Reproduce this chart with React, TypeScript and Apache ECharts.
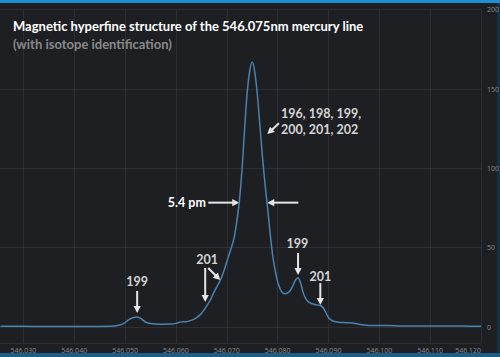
import React, { useEffect, useRef } from "react";
import * as echarts from "echarts";

// Spectrum: wavelength (nm) and intensity (a.u.)
const wavelengths = [
  546.0255, 546.028, 546.032, 546.036, 546.04, 546.044, 546.047, 546.0485, 546.0495, 546.05,
  546.0505, 546.051, 546.0515, 546.0523, 546.053, 546.0535, 546.054, 546.055, 546.057, 546.059,
  546.06, 546.0608, 546.062, 546.063, 546.064, 546.0648, 546.0655, 546.066, 546.0665, 546.067,
  546.0675, 546.068, 546.0685, 546.069, 546.0695, 546.07, 546.0705, 546.071, 546.0715, 546.072,
  546.0725, 546.073, 546.0735, 546.074, 546.0745, 546.075, 546.0755, 546.076, 546.0765, 546.077,
  546.0775, 546.078, 546.0785, 546.079, 546.0795, 546.08, 546.0805, 546.081, 546.0815, 546.082,
  546.0825, 546.083, 546.0835, 546.084, 546.0845, 546.085, 546.0855, 546.086, 546.0865, 546.087,
  546.0875, 546.088, 546.0885, 546.089, 546.0895, 546.09, 546.0905, 546.091, 546.092, 546.093,
  546.094, 546.095, 546.096, 546.097, 546.098, 546.1, 546.102, 546.104, 546.107, 546.11,
  546.113, 546.116, 546.12,
];
const intensities = [
  0.5, 0.5, 0.4, 0.4, 0.3, 0.4, 0.5, 0.9, 1.8, 2.8,
  4.0, 5.1, 5.9, 6.3, 5.6, 4.4, 3.2, 2.2, 1.8, 1.9,
  2.3, 3.1, 3.4, 4.2, 5.8, 7.8, 10.5, 13, 15.5, 18.5,
  22, 25, 28, 31.5, 36, 41, 46, 51, 57, 67,
  80, 99, 124, 147, 161, 167, 161, 147, 128, 108,
  91, 76, 60, 46, 36, 28.5, 24, 21.5, 21, 21.5,
  23, 26, 29.5, 31, 28, 22, 18, 16, 15, 14.5,
  14, 13.8, 13.4, 12, 9, 6, 4.5, 3.6, 3.0, 2.8,
  2.7, 2.4, 1.8, 1.3, 1.0, 0.9, 1.0, 0.7, 0.6, 0.7,
  0.6, 0.6, 0.5,
];

// Annotation texts (data coordinates)
const noteTexts = ["199", "201", "199", "201", "196, 198, 199,\n200, 201, 202", "5.4 pm"];
const noteX = [546.05238, 546.06616, 546.08388, 546.08841, 546.08069, 546.06589];
const noteY = [28.4, 42.8, 52.9, 32.1, 129.8, 78.8];
const noteAlign = ["center", "center", "center", "center", "left", "right"];
const noteColor = ["#d4d4d4", "#d4d4d4", "#d4d4d4", "#d4d4d4", "#d4d4d4", "#ffffff"];

// Arrows (data coordinates): from -> to
const arrowFromX = [546.05238, 546.06576, 546.06635, 546.08026, 546.06636, 546.08407, 546.08402, 546.0884];
const arrowFromY = [22.7, 37.2, 37.2, 128.4, 78.4, 78.4, 46.6, 27.7];
const arrowToX = [546.05238, 546.06576, 546.06872, 546.07797, 546.07246, 546.07797, 546.08402, 546.0884];
const arrowToY = [8.8, 15.8, 29.6, 121.6, 78.4, 78.4, 32.8, 13.9];

const titleText = "Magnetic hyperfine structure of the 546.075nm mercury line";
const subtitleText = "(with isotope identification)";

const FONT = 'Lato, "Open Sans", sans-serif';
const TICK_FONT = '"Open Sans", "Noto Sans", sans-serif';

export default function App() {
  const ref = useRef<HTMLDivElement>(null);
  useEffect(() => {
    const chart = echarts.init(ref.current!, null, { renderer: "svg", width: 500, height: 357 });
    chart.setOption({
      animation: false,
      backgroundColor: "#1e1f22",
      title: {
        text: titleText,
        subtext: subtitleText,
        left: 8,
        top: 13,
        itemGap: 2,
        textStyle: { color: "#ffffff", fontSize: 13, fontWeight: "bold", fontFamily: FONT, lineHeight: 16 },
        subtextStyle: { color: "#8a8a8a", fontSize: 13, fontWeight: "bold", fontFamily: FONT, lineHeight: 16 },
      },
      grid: { left: -27.5, right: 19, top: 9.7, bottom: 14.1, outerBoundsMode: "none" },
      xAxis: {
        type: "value",
        min: 546.02,
        max: 546.12,
        interval: 0.01,
        axisLine: { show: false },
        axisTick: { show: false },
        axisLabel: {
          color: "#8a8a8a",
          fontSize: 7,
          fontFamily: TICK_FONT,
          margin: 4,
          showMinLabel: false,
          alignMaxLabel: "right",
          formatter: (v: number) => v.toFixed(3),
        },
        splitLine: { show: true, lineStyle: { color: "rgba(255,255,255,0.07)", width: 1 } },
      },
      yAxis: {
        type: "value",
        position: "right",
        min: -10,
        max: 200,
        splitNumber: 5,
        axisLine: { show: false },
        axisTick: { show: false },
        axisLabel: {
          color: "#8a8a8a",
          fontSize: 7,
          fontFamily: TICK_FONT,
          margin: 6,
          showMinLabel: false,
        },
        splitLine: { show: true, lineStyle: { color: "rgba(255,255,255,0.07)", width: 1 } },
      },
      series: [
        {
          type: "line",
          data: wavelengths.map((w, i) => [w, intensities[i]]),
          showSymbol: false,
          smooth: 0.3,
          lineStyle: { color: "#4a82b0", width: 1.5 },
          silent: true,
        },
      ],
    });

    const px = (p: number[]) => chart.convertToPixel({ seriesIndex: 0 }, p) as number[];
    const graphics: any[] = [];
    // frame decorations
    graphics.push({ type: "rect", shape: { x: 0, y: 0, width: 500, height: 3 }, style: { fill: "#1f8fcf" } });
    graphics.push({ type: "rect", shape: { x: 0, y: 353, width: 500, height: 4 }, style: { fill: "#1b5f88" } });
    graphics.push({ type: "rect", shape: { x: 497, y: 3, width: 3, height: 350 }, style: { fill: "#12324a" } });

    const arrowColor = "#e6e6e6";
    for (let i = 0; i < arrowFromX.length; i++) {
      const a = px([arrowFromX[i], arrowFromY[i]]);
      const b = px([arrowToX[i], arrowToY[i]]);
      const dx = b[0] - a[0];
      const dy = b[1] - a[1];
      const len = Math.sqrt(dx * dx + dy * dy) || 1;
      const ux = dx / len;
      const uy = dy / len;
      const L = 7;
      const W = 3.6;
      const bx = b[0] - ux * L;
      const by = b[1] - uy * L;
      graphics.push({
        type: "line",
        shape: { x1: a[0], y1: a[1], x2: bx + ux, y2: by + uy },
        style: { stroke: arrowColor, lineWidth: 2 },
        silent: true,
      });
      graphics.push({
        type: "polygon",
        shape: {
          points: [
            [b[0], b[1]],
            [bx - uy * W, by + ux * W],
            [bx + uy * W, by - ux * W],
          ],
        },
        style: { fill: arrowColor },
        silent: true,
      });
    }
    for (let i = 0; i < noteTexts.length; i++) {
      const p = px([noteX[i], noteY[i]]);
      graphics.push({
        type: "text",
        x: p[0],
        y: p[1],
        silent: true,
        style: {
          text: noteTexts[i],
          fill: noteColor[i],
          fontSize: 12.5,
          fontWeight: "bold",
          fontFamily: FONT,
          lineHeight: 16,
          align: noteAlign[i],
          verticalAlign: "middle",
        },
      });
    }
    chart.setOption({ graphic: graphics });
    return () => chart.dispose();
  }, []);
  return <div ref={ref} style={{ position: "fixed", left: 0, top: 0, width: 500, height: 357 }} />;
}
